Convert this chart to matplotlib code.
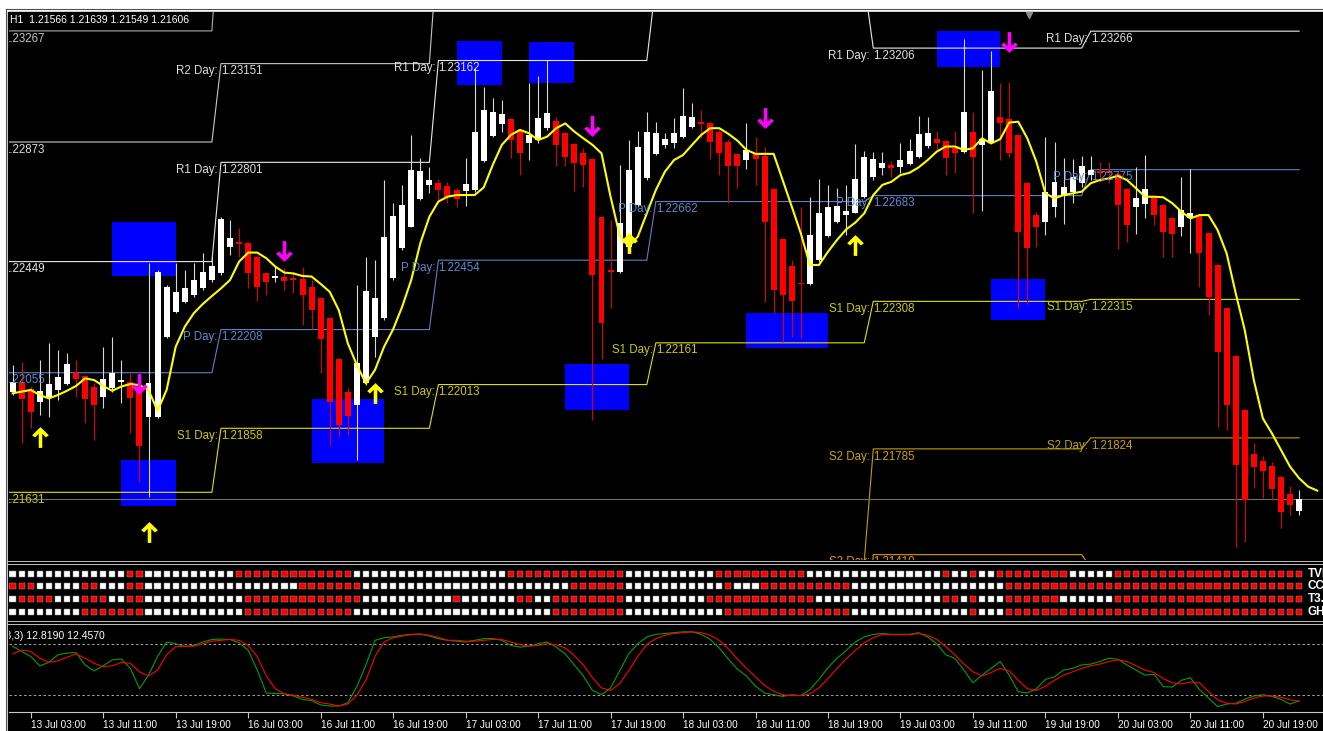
import numpy as np
import pandas as pd
import matplotlib
matplotlib.use('Agg')
import matplotlib.pyplot as plt
from matplotlib.path import Path
from matplotlib.lines import Line2D
from matplotlib.patches import Rectangle
from matplotlib.transforms import offset_copy

plt.rcParams['font.family'] = ['Liberation Sans', 'DejaVu Sans']

W, H = 1323, 731

# ---- EURUSD H1 bars ----
times = pd.date_range('2012-07-13 01:00', '2012-07-13 23:00', freq='h').append(
    pd.date_range('2012-07-16 00:00', '2012-07-20 23:00', freq='h'))

opens = [1.21988, 1.22017, 1.21996, 1.21952, 1.21968, 1.21994, 1.22015, 1.22053, 1.22043, 1.22006,
         1.21970, 1.22000, 1.22023, 1.22023, 1.22008, 1.21897, 1.21899, 1.22183, 1.22272, 1.22307,
         1.22331, 1.22354, 1.22384, 1.22407, 1.22502, 1.22520, 1.22516, 1.22464, 1.22410, 1.22390,
         1.22396, 1.22392, 1.22389, 1.22360, 1.22321, 1.22248, 1.22102, 1.21988, 1.21941, 1.22017,
         1.22183, 1.22248, 1.22390, 1.22496, 1.22573, 1.22670, 1.22721, 1.22729, 1.22717, 1.22703,
         1.22701, 1.22703, 1.22807, 1.22896, 1.22937, 1.22954, 1.22916, 1.22871, 1.22880, 1.22922,
         1.22949, 1.22906, 1.22865, 1.22835, 1.22813, 1.22608, 1.22419, 1.22413, 1.22502, 1.22650,
         1.22744, 1.22831, 1.22863, 1.22871, 1.22890, 1.22928, 1.22945, 1.22942, 1.22910, 1.22874,
         1.22831, 1.22809, 1.22831, 1.22823, 1.22705, 1.22528, 1.22433, 1.22374, 1.22370, 1.22455,
         1.22540, 1.22591, 1.22614, 1.22623, 1.22679, 1.22748, 1.22780, 1.22792, 1.22783, 1.22795,
         1.22821, 1.22859, 1.22883, 1.22877, 1.22851, 1.22839, 1.22910, 1.22863, 1.22871, 1.22961,
         1.22954, 1.22898, 1.22729, 1.22614, 1.22591, 1.22644, 1.22682, 1.22697, 1.22727, 1.22756,
         1.22771, 1.22771, 1.22760, 1.22705, 1.22644, 1.22653, 1.22679, 1.22650, 1.22602, 1.22573,
         1.22602, 1.22614, 1.22549, 1.22437, 1.22283, 1.22114, 1.21923, 1.21767, 1.21743, 1.21724,
         1.21684, 1.21625, 1.21566]
highs = [1.22082, 1.22094, 1.22008, 1.22100, 1.22159, 1.22136, 1.22126, 1.22100, 1.22047, 1.22017,
         1.22147, 1.22183, 1.22100, 1.22053, 1.22023, 1.22445, 1.22419, 1.22366, 1.22443, 1.22419,
         1.22445, 1.22478, 1.22478, 1.22608, 1.22597, 1.22567, 1.22520, 1.22467, 1.22413, 1.22431,
         1.22425, 1.22413, 1.22431, 1.22384, 1.22325, 1.22251, 1.22106, 1.22000, 1.22366, 1.22467,
         1.22455, 1.22738, 1.22656, 1.22721, 1.22898, 1.22815, 1.22783, 1.22741, 1.22732, 1.22709,
         1.22815, 1.23136, 1.23068, 1.23028, 1.23022, 1.22957, 1.22918, 1.23082, 1.23107, 1.23164,
         1.22963, 1.22910, 1.22868, 1.22851, 1.22815, 1.22611, 1.22597, 1.22792, 1.22880, 1.22913,
         1.22981, 1.22945, 1.22904, 1.22957, 1.23063, 1.23010, 1.22987, 1.22945, 1.22916, 1.22880,
         1.22835, 1.22942, 1.22890, 1.22857, 1.22709, 1.22532, 1.22455, 1.22644, 1.22679, 1.22742,
         1.22721, 1.22709, 1.22721, 1.22866, 1.22842, 1.22839, 1.22839, 1.22807, 1.22868, 1.22883,
         1.22967, 1.22963, 1.22913, 1.22880, 1.22913, 1.23238, 1.22981, 1.23128, 1.23196, 1.23081,
         1.23087, 1.22902, 1.22732, 1.22626, 1.22890, 1.22874, 1.22815, 1.22812, 1.22823, 1.22823,
         1.22803, 1.22803, 1.22762, 1.22709, 1.22783, 1.22827, 1.22682, 1.22653, 1.22606, 1.22748,
         1.22776, 1.22618, 1.22552, 1.22441, 1.22287, 1.22118, 1.21925, 1.21805, 1.21760, 1.21740,
         1.21689, 1.21653, 1.21639]
lows = [1.21976, 1.21805, 1.21858, 1.21905, 1.21897, 1.21958, 1.22011, 1.21970, 1.21876, 1.21816,
        1.21929, 1.21988, 1.21946, 1.21840, 1.21669, 1.21615, 1.21893, 1.22177, 1.22266, 1.22301,
        1.22325, 1.22348, 1.22378, 1.22402, 1.22472, 1.22467, 1.22354, 1.22311, 1.22331, 1.22378,
        1.22348, 1.22337, 1.22224, 1.22209, 1.22053, 1.21799, 1.21828, 1.21834, 1.21746, 1.22011,
        1.22112, 1.22242, 1.22384, 1.22490, 1.22573, 1.22667, 1.22691, 1.22665, 1.22656, 1.22644,
        1.22646, 1.22697, 1.22803, 1.22892, 1.22910, 1.22815, 1.22756, 1.22809, 1.22868, 1.22916,
        1.22788, 1.22788, 1.22701, 1.22715, 1.21887, 1.22102, 1.22283, 1.22410, 1.22478, 1.22644,
        1.22738, 1.22827, 1.22851, 1.22851, 1.22886, 1.22922, 1.22886, 1.22812, 1.22756, 1.22656,
        1.22709, 1.22776, 1.22721, 1.22307, 1.22266, 1.22165, 1.22183, 1.22177, 1.22366, 1.22449,
        1.22537, 1.22585, 1.22543, 1.22620, 1.22673, 1.22738, 1.22756, 1.22750, 1.22762, 1.22792,
        1.22815, 1.22851, 1.22839, 1.22756, 1.22762, 1.22835, 1.22623, 1.22630, 1.22868, 1.22809,
        1.22821, 1.22283, 1.22299, 1.22502, 1.22543, 1.22608, 1.22582, 1.22658, 1.22715, 1.22738,
        1.22732, 1.22727, 1.22493, 1.22520, 1.22547, 1.22602, 1.22579, 1.22467, 1.22464, 1.22540,
        1.22481, 1.22360, 1.22260, 1.21861, 1.21852, 1.21436, 1.21456, 1.21645, 1.21610, 1.21604,
        1.21503, 1.21550, 1.21549]
closes = [1.22023, 1.21961, 1.21917, 1.21991, 1.22015, 1.22041, 1.22086, 1.22032, 1.21961, 1.21941,
          1.22032, 1.22053, 1.22029, 1.21964, 1.21795, 1.22017, 1.22413, 1.22360, 1.22342, 1.22354,
          1.22384, 1.22413, 1.22433, 1.22599, 1.22532, 1.22511, 1.22410, 1.22358, 1.22376, 1.22399,
          1.22381, 1.22384, 1.22331, 1.22277, 1.22173, 1.21952, 1.21870, 1.21902, 1.22091, 1.22346,
          1.22319, 1.22537, 1.22611, 1.22650, 1.22774, 1.22771, 1.22738, 1.22703, 1.22677, 1.22670,
          1.22724, 1.22910, 1.22987, 1.22978, 1.22971, 1.22880, 1.22833, 1.22898, 1.22957, 1.22977,
          1.22863, 1.22821, 1.22800, 1.22792, 1.22402, 1.22233, 1.22413, 1.22585, 1.22774, 1.22854,
          1.22910, 1.22906, 1.22883, 1.22906, 1.22965, 1.22963, 1.22937, 1.22874, 1.22835, 1.22788,
          1.22788, 1.22845, 1.22812, 1.22591, 1.22348, 1.22331, 1.22311, 1.22370, 1.22543, 1.22623,
          1.22644, 1.22646, 1.22630, 1.22741, 1.22821, 1.22813, 1.22800, 1.22780, 1.22809, 1.22841,
          1.22902, 1.22906, 1.22871, 1.22815, 1.22833, 1.22978, 1.22821, 1.22883, 1.23055, 1.22942,
          1.22835, 1.22555, 1.22496, 1.22571, 1.22697, 1.22732, 1.22712, 1.22748, 1.22788, 1.22774,
          1.22762, 1.22762, 1.22650, 1.22579, 1.22673, 1.22705, 1.22614, 1.22555, 1.22547, 1.22632,
          1.22623, 1.22481, 1.22325, 1.22130, 1.21941, 1.21728, 1.21604, 1.21720, 1.21708, 1.21641,
          1.21562, 1.21586, 1.21606]

# yellow moving average (runs two bars past the last candle)
ma_line = [1.21982, 1.21988, 1.21994, 1.21976, 1.21964, 1.21976, 1.21991, 1.22008, 1.22035, 1.22029,
           1.22008, 1.21991, 1.22006, 1.22015, 1.22011, 1.21994, 1.21920, 1.21994, 1.22147, 1.22218,
           1.22266, 1.22299, 1.22327, 1.22354, 1.22384, 1.22449, 1.22481, 1.22481, 1.22461, 1.22431,
           1.22410, 1.22407, 1.22398, 1.22396, 1.22370, 1.22342, 1.22277, 1.22159, 1.22082, 1.22017,
           1.22065, 1.22147, 1.22209, 1.22289, 1.22384, 1.22514, 1.22608, 1.22662, 1.22679, 1.22685,
           1.22685, 1.22685, 1.22712, 1.22792, 1.22863, 1.22898, 1.22916, 1.22904, 1.22880, 1.22892,
           1.22922, 1.22939, 1.22910, 1.22886, 1.22863, 1.22833, 1.22679, 1.22543, 1.22502, 1.22537,
           1.22620, 1.22703, 1.22768, 1.22809, 1.22827, 1.22863, 1.22898, 1.22922, 1.22922, 1.22902,
           1.22878, 1.22845, 1.22831, 1.22831, 1.22831, 1.22738, 1.22644, 1.22549, 1.22437, 1.22437,
           1.22484, 1.22526, 1.22563, 1.22587, 1.22620, 1.22685, 1.22721, 1.22732, 1.22756, 1.22764,
           1.22783, 1.22809, 1.22839, 1.22857, 1.22857, 1.22845, 1.22851, 1.22886, 1.22868, 1.22883,
           1.22942, 1.22945, 1.22886, 1.22803, 1.22691, 1.22673, 1.22685, 1.22691, 1.22697, 1.22727,
           1.22738, 1.22744, 1.22753, 1.22738, 1.22709, 1.22679, 1.22679, 1.22677, 1.22656, 1.22626,
           1.22602, 1.22614, 1.22614, 1.22561, 1.22478, 1.22337, 1.22206, 1.22029, 1.21893, 1.21840,
           1.21781, 1.21722, 1.21681, 1.21651, 1.21637]

bid = 1.21606
header = 'H1  1.21566 1.21639 1.21549 1.21606'

# daily pivot levels, one value per trading day
piv_R3 = [1.23267, 1.23744, 1.24311, 1.24713, 1.24104, 1.24217]
piv_R2 = [1.22873, 1.23151, 1.23603, 1.23938, 1.23581, 1.23726]
piv_R1 = [1.22449, 1.22801, 1.23162, 1.23437, 1.23206, 1.23266]
piv_P = [1.22055, 1.22208, 1.22454, 1.22662, 1.22683, 1.22775]
piv_S1 = [1.21631, 1.21858, 1.22013, 1.22161, 1.22308, 1.22315]
piv_S2 = [1.21237, 1.21265, 1.21305, 1.21386, 1.21785, 1.21824]
piv_S3 = [1.20813, 1.20915, 1.20864, 1.20885, 1.21410, 1.21364]

# supply / demand zones
zone_from = [11, 12, 33, 49, 57, 61, 81, 102, 108]
zone_to = [18, 18, 41, 54, 62, 68, 90, 109, 114]
zone_top = [1.22591, 1.21746, 1.21962, 1.23232, 1.23226, 1.22087, 1.22266, 1.23265, 1.22388]
zone_bottom = [1.22398, 1.21584, 1.21734, 1.23076, 1.23084, 1.21923, 1.22141, 1.23140, 1.22242]

# signal arrows
buy_bars = [3, 15, 40, 68, 93]
buy_price = [1.21827, 1.21491, 1.21983, 1.22515, 1.22508]
sell_bars = [14, 30, 64, 83, 110]
sell_price = [1.22015, 1.22487, 1.22930, 1.22959, 1.23228]

# trend matrix, runs of (colour, bars)
tvi_runs = [('W', 13), ('R', 2), ('W', 10), ('R', 13), ('W', 17), ('R', 13), ('W', 10), ('R', 10),
            ('W', 15), ('R', 1), ('W', 2), ('R', 1), ('W', 2), ('R', 8), ('W', 5), ('R', 21)]
cci_runs = [('R', 3), ('W', 5), ('R', 2), ('W', 3), ('R', 2), ('W', 17), ('R', 7), ('W', 23),
            ('R', 6), ('W', 11), ('R', 1), ('W', 3), ('R', 10), ('W', 17), ('R', 33)]
t3_runs = [('W', 1), ('R', 4), ('W', 3), ('R', 3), ('W', 2), ('R', 2), ('W', 11), ('R', 13),
           ('W', 10), ('R', 1), ('W', 6), ('R', 2), ('W', 2), ('R', 8), ('W', 9), ('R', 12),
           ('W', 14), ('R', 2), ('W', 1), ('R', 1), ('W', 3), ('R', 6), ('W', 6), ('R', 21)]
ghl_runs = [('W', 8), ('R', 7), ('W', 11), ('R', 12), ('W', 22), ('R', 8), ('W', 11), ('R', 14),
            ('W', 13), ('R', 1), ('W', 3), ('R', 33)]
matrix_names = ['TVI', 'CCI', 'T3.', 'GHL']

# stochastic oscillator
stoch_main = [77, 71, 65, 54, 58, 67, 69, 69.5, 55, 48, 54, 61, 62, 51, 27, 43, 65, 82, 80, 76.5,
              78, 82, 85, 85.5, 85, 81, 72.5, 49, 22, 21.6, 21, 18.5, 14.5, 13, 8, 6.7, 6.7, 10.6, 29.5, 55,
              84, 87, 88, 90, 91, 91.4, 89, 86, 84, 83, 82, 84, 86, 86, 84, 78, 76, 77, 80,
              82, 76, 68, 55, 42, 25, 20, 28, 48, 68, 80, 88, 91, 92, 93, 94, 94, 91, 85, 75,
              62, 50, 42, 30, 22, 20, 18, 20, 19, 26, 38, 52, 63, 72, 82, 88, 91, 92, 91, 91,
              91, 93, 88, 80, 67, 63, 49, 34, 43, 51, 59, 43, 23.6, 22, 27, 38, 41, 49, 51, 55,
              56, 59, 63, 61.6, 55, 49, 43, 44, 29.5, 29, 37, 40, 26, 16, 6, 9, 10, 14.5, 18.5, 20,
              18, 14.5, 9, 12.819]
stoch_signal = [68, 72.6, 71, 63, 58, 60, 64, 68, 63, 57, 53, 54, 58, 57, 47, 42, 49, 67, 76.5, 77,
                77, 80, 83, 84, 85, 84, 78, 65, 42, 27, 21, 19.6, 17, 14.5, 10.6, 9, 6.7, 9, 19.6, 37,
                65, 82, 87, 89, 90.6, 91.4, 90, 87.5, 84, 84, 83, 83, 84, 85, 85, 82, 79, 77, 78,
                80, 79, 75, 66, 55, 40, 28, 25, 33, 48, 65, 79, 86, 90, 92, 93, 94, 93, 90, 84,
                74, 62, 51, 41, 31, 24, 20, 19, 19, 21, 28, 39, 51, 62, 72, 81, 87, 91, 90.6, 90.6,
                90.6, 92, 90, 85, 76.5, 67, 56, 47, 42, 46, 51, 48, 37, 27, 25, 30, 37, 43, 47, 51,
                54, 56, 59, 61, 59, 54, 49, 46, 39, 34, 32.6, 35, 34, 23.6, 14, 10, 9, 12, 16, 18.5,
                18.5, 17, 14, 12.457]
stoch_levels = [80, 20]

# ---- layout (pixels) ----
BAR0, STEP = 12.6, 9.06          # x of first bar, spacing between bars
LEFT = 9
PRICE_LO, PRICE_HI = 1.21391, 1.23334


def frame(x0, y0, x1, y1):
    return [x0 / W, 1 - y1 / H, (x1 - x0) / W, (y1 - y0) / H]


xlim = ((LEFT - BAR0) / STEP, (W - BAR0) / STEP)

fig = plt.figure(figsize=(W / 100, H / 100), dpi=100, facecolor='white')
fig.add_artist(Rectangle((8 / W, 0), 1, 1 - 12 / H, transform=fig.transFigure,
                         color='black', zorder=0))
fig.add_artist(Line2D([5.5 / W, 5.5 / W], [0, 1 - 8.5 / H], transform=fig.transFigure,
                      color='#505050', lw=0.8))
fig.add_artist(Line2D([5.5 / W, 1], [1 - 8.5 / H] * 2, transform=fig.transFigure,
                      color='#505050', lw=0.8))
for ysep in (560.5, 563.5, 620.5, 623.5):
    fig.add_artist(Line2D([8 / W, 1], [1 - ysep / H] * 2, transform=fig.transFigure,
                          color='#b8b8b8', lw=0.75, zorder=5))

ax = fig.add_axes(frame(LEFT, 12, W, 560), facecolor='black')
axq = fig.add_axes(frame(LEFT, 565, W, 619), facecolor='black')
axo = fig.add_axes(frame(LEFT, 624, W, 712), facecolor='black')
for a in (ax, axq, axo):
    a.set_xlim(*xlim)
    for s in a.spines.values():
        s.set_visible(False)
    a.set_yticks([])
    a.set_xticks([])

# ---- main price panel ----
ax.set_ylim(PRICE_LO, PRICE_HI)

for a0, a1, top, bot in zip(zone_from, zone_to, zone_top, zone_bottom):
    ax.add_patch(Rectangle((a0, bot), a1 - a0, top - bot, color='#0000ff', lw=0, zorder=1))

day_idx = pd.factorize(times.normalize())[0]
px = np.arange(-1, len(times))
pday = np.r_[0, day_idx]
day_first = [px[pday == d][0] for d in range(len(piv_P))]

levels = [('R3', piv_R3, '#b0aca4', '#c8c8c8'),
          ('R2', piv_R2, '#c8c8c8', '#dcdcdc'),
          ('R1', piv_R1, '#e8e8e8', '#e0e0e0'),
          ('P', piv_P, '#5b82c4', '#5f88cc'),
          ('S1', piv_S1, '#e0e000', '#cccc00'),
          ('S2', piv_S2, '#c0a000', '#c8a400'),
          ('S3', piv_S3, '#e09a00', '#e09a00')]
below = offset_copy(ax.transData, fig=fig, x=0, y=-1.2, units='points')
for name, vals, lcol, tcol in levels:
    ax.plot(px, np.asarray(vals)[pday], color=lcol, lw=0.8, zorder=2)
    for xs, v in zip(day_first, vals):
        if not PRICE_LO < v < PRICE_HI:
            continue
        ax.text(xs, v, f'{name} Day: ', color=tcol, fontsize=8.3, ha='right', va='top',
                transform=below, clip_on=True, zorder=6)
        ax.text(xs, v, f'{v:.5f}', color=tcol, fontsize=8.3, ha='left', va='top',
                transform=below, clip_on=True, zorder=6)

ax.axhline(bid, color='#707070', lw=0.8, zorder=2)

o, h, l, c = (np.asarray(v) for v in (opens, highs, lows, closes))
xb = np.arange(len(o))
up = c >= o
body_lo = np.minimum(o, c)
body_h = np.maximum(np.abs(c - o), 0.00003)
ax.vlines(xb[up], l[up], h[up], color='#d8d8d8', lw=0.8, zorder=3)
ax.vlines(xb[~up], l[~up], h[~up], color='#d80000', lw=0.8, zorder=3)
ax.bar(xb[up], body_h[up], bottom=body_lo[up], width=0.66, color='white', lw=0, zorder=3.5)
ax.bar(xb[~up], body_h[~up], bottom=body_lo[~up], width=0.66, color='#ff0000', lw=0, zorder=3.5)

ax.plot(np.arange(len(ma_line)), ma_line, color='#ffff00', lw=1.5, zorder=4)

up_arrow = Path([(0, 1), (0.8, 0.22), (0.52, 0.0), (0.17, 0.36), (0.17, -1), (-0.17, -1),
                 (-0.17, 0.36), (-0.52, 0.0), (-0.8, 0.22), (0, 1)], closed=True)
down_arrow = Path(up_arrow.vertices * [1, -1], closed=True)
ax.scatter(buy_bars, buy_price, marker=up_arrow, s=15 ** 2, color='#ffff00', lw=0, zorder=5)
ax.scatter(sell_bars, sell_price, marker=down_arrow, s=15 ** 2, color='#ff00ff', lw=0, zorder=5)

ax.text(1 / 1314, 1 - 8 / 548, header, transform=ax.transAxes, color='white', fontsize=7.5,
        ha='left', va='center', zorder=7)
ax.plot([(1029 - LEFT) / 1314], [1 - 3 / 548], marker='v', ms=5, color='#8c8c8c',
        transform=ax.transAxes, clip_on=False, zorder=7)

# ---- trend matrix ----
axq.set_ylim(3.576, -0.687)
for row, runs in enumerate((tvi_runs, cci_runs, t3_runs, ghl_runs)):
    cells = np.concatenate([[col] * n for col, n in runs])
    colors = np.where(cells == 'R', '#ff0000', '#ffffff')
    axq.scatter(np.arange(len(cells)), np.full(len(cells), row), marker='s', s=20,
                c=colors, edgecolors='#909090', linewidths=0.35, zorder=3)
    axq.text((1308 - LEFT) / 1314, row, matrix_names[row], transform=axq.get_yaxis_transform(),
             color='white', fontsize=8.5, fontweight='bold', ha='left', va='center')

# ---- stochastic ----
axo.set_ylim(-0.35, 103.2)
for lv in stoch_levels:
    axo.axhline(lv, color='#a8a8a8', lw=0.7, ls=(0, (2.5, 2.5)))
xs_osc = np.arange(len(stoch_main))
axo.plot(xs_osc, stoch_main, color='#00a000', lw=0.8)
axo.plot(xs_osc, stoch_signal, color='#ff0000', lw=0.8)
axo.text((105 - LEFT) / 1314, 1 - (636 - 624) / 88,
         f'Stoch(5,3,3) {stoch_main[-1]:.4f} {stoch_signal[-1]:.4f}',
         transform=axo.transAxes, color='white', fontsize=7.5, ha='right', va='center',
         clip_on=True)

tick_bars = [i for i, t in enumerate(times) if t.hour in (3, 11, 19)]
axo.set_xticks(tick_bars)
axo.set_xticklabels([f'{times[i].day} {times[i]:%b %H:%M}' for i in tick_bars], ha='left')
axo.tick_params(axis='x', colors='#c8c8c8', labelcolor='white', length=4, width=0.8,
                pad=1.5, labelsize=7.2)
axo.spines['bottom'].set_visible(True)
axo.spines['bottom'].set_color('#c8c8c8')
axo.spines['bottom'].set_linewidth(0.8)

fig.savefig('out.png', dpi=100, facecolor=fig.get_facecolor())
